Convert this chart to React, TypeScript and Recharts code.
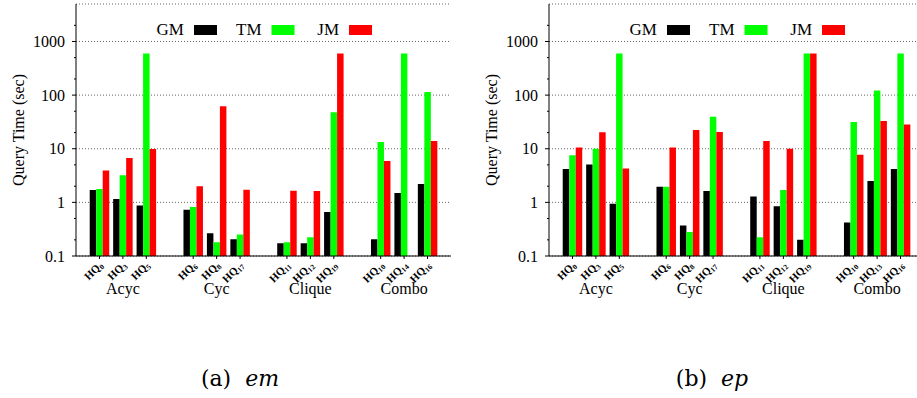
import { BarChart, Bar, XAxis, YAxis, CartesianGrid } from "recharts";

const GROUPS = ["Acyc", "Cyc", "Clique", "Combo"];
const QUERIES_EM = ["HQ0", "HQ3", "HQ5", "HQ6", "HQ8", "HQ17", "HQ11", "HQ12", "HQ19", "HQ10", "HQ14", "HQ16"];
const QUERIES_EP = ["HQ0", "HQ3", "HQ5", "HQ6", "HQ8", "HQ17", "HQ11", "HQ12", "HQ19", "HQ10", "HQ13", "HQ16"];

const EM_GM = [1.7, 1.15, 0.87, 0.73, 0.265, 0.205, 0.172, 0.172, 0.66, 0.205, 1.49, 2.2];
const EM_TM = [1.77, 3.2, 600, 0.82, 0.18, 0.253, 0.18, 0.223, 48, 13.3, 600, 114];
const EM_JM = [3.95, 6.7, 9.9, 1.99, 62, 1.72, 1.65, 1.63, 600, 5.9, null, 13.9];

const EP_GM = [4.2, 5.1, 0.94, 1.95, 0.37, 1.63, 1.28, 0.85, 0.2, 0.42, 2.5, 4.2];
const EP_TM = [7.6, 10, 600, 1.95, 0.28, 39.5, 0.223, 1.7, 600, 31.4, 122, 600];
const EP_JM = [10.6, 20.2, 4.3, 10.6, 22.3, 20.5, 13.9, 10, 600, 7.7, 32.8, 28.4];

const SERIES = ["GM", "TM", "JM"];
const COLORS = ["#000000", "#00ff00", "#ff0000"];

const MAJOR_TICKS = [0.1, 1, 10, 100, 1000];
const MINOR_TICKS = [0.2, 0.5, 2, 5, 20, 50, 200, 500, 2000];
const Y_DOMAIN = [0.1, 5000];

const FONT = "'Liberation Serif', 'Times New Roman', serif";

function buildRows(queries: string[], gm: (number | null)[], tm: (number | null)[], jm: (number | null)[]) {
  const rows: any[] = [];
  queries.forEach((q, i) => {
    if (i > 0 && i % 3 === 0) rows.push({ q: `gap${i}` });
    rows.push({
      q,
      group: i % 3 === 1 ? GROUPS[Math.floor(i / 3)] : null,
      GM: gm[i],
      TM: tm[i],
      JM: jm[i],
    });
  });
  return rows;
}

const emRows = buildRows(QUERIES_EM, EM_GM, EM_TM, EM_JM);
const epRows = buildRows(QUERIES_EP, EP_GM, EP_TM, EP_JM);

function QueryTick(props: any) {
  const { x, y, payload, rows } = props;
  const q: string = payload.value;
  if (q.startsWith("gap")) return null;
  const row = rows.find((r: any) => r.q === q);
  const px = Number(x);
  const py = Number(y);
  return (
    <g>
      <line x1={px} x2={px} y1={py} y2={py + 3} stroke="#000" />
      <g transform={`translate(${px + 4},${py + 10}) rotate(-45)`}>
        <text x={0} y={0} textAnchor="end" fontFamily={FONT} fontWeight="bold" fontSize={11} fill="#000">
          HQ
          <tspan fontSize={7.5} dy={2}>
            {q.slice(2)}
          </tspan>
        </text>
      </g>
      {row && row.group && (
        <text x={px} y={py + 38} textAnchor="middle" fontFamily={FONT} fontSize={16} fill="#000">
          {row.group}
        </text>
      )}
    </g>
  );
}

function ValueTick(props: any) {
  const { x, y, payload } = props;
  const v = payload.value;
  const major = MAJOR_TICKS.includes(v);
  return (
    <g>
      <line x1={x - (major ? 4 : 2)} x2={x} y1={y} y2={y} stroke="#000" />
      {major && (
        <text x={x - 11} y={y} dy="0.35em" textAnchor="end" fontFamily={FONT} fontSize={16} fill="#000">
          {v}
        </text>
      )}
    </g>
  );
}

function Panel({ rows }: { rows: any[] }) {
  return (
    <BarChart
      width={460}
      height={300}
      data={rows}
      margin={{ top: 4, right: 9, bottom: 0, left: 0 }}
      barGap={0}
      barSize={6.5}
    >
      <CartesianGrid yAxisId="grid" vertical={false} stroke="#666" strokeDasharray="1 2" />
      <XAxis
        dataKey="q"
        height={44}
        interval={0}
        tickSize={0}
        tickMargin={0}
        tickLine={false}
        padding={{ left: 11.72, right: 11.72 }}
        axisLine={{ stroke: "#000" }}
        tick={<QueryTick rows={rows} />}
      />
      <XAxis
        xAxisId="top"
        dataKey="q"
        orientation="top"
        height={0}
        tick={false}
        tickLine={false}
        axisLine={{ stroke: "#000" }}
      />
      <YAxis
        scale="log"
        domain={Y_DOMAIN}
        allowDataOverflow
        ticks={[...MAJOR_TICKS, ...MINOR_TICKS].sort((a, b) => a - b)}
        interval={0}
        width={76}
        tickSize={0}
        tickMargin={0}
        tickLine={false}
        axisLine={{ stroke: "#000" }}
        tick={<ValueTick />}
      />
      <YAxis
        yAxisId="grid"
        scale="log"
        domain={Y_DOMAIN}
        allowDataOverflow
        ticks={MAJOR_TICKS.slice(1)}
        interval={0}
        hide
      />
      <YAxis
        yAxisId="right"
        orientation="right"
        width={0}
        tick={false}
        tickLine={false}
        axisLine={{ stroke: "#000" }}
      />
      {SERIES.map((s, i) => (
        <Bar key={s} dataKey={s} fill={COLORS[i]} isAnimationActive={false} />
      ))}
      <text
        x={18}
        y={130}
        transform="rotate(-90 18 130)"
        textAnchor="middle"
        dy="0.35em"
        fontFamily={FONT}
        fontSize={16}
        fill="#000"
      >
        Query Time (sec)
      </text>
      <g>
        {SERIES.map((s, i) => (
          <g key={s}>
            <text x={184 + 77.5 * i} y={35} textAnchor="end" fontFamily={FONT} fontSize={17} fill="#000">
              {s}
            </text>
            <rect x={194 + 77.5 * i} y={25} width={23} height={10} fill={COLORS[i]} />
          </g>
        ))}
      </g>
    </BarChart>
  );
}

export default function App() {
  return (
    <div
      style={{
        position: "absolute",
        left: 0,
        top: 0,
        width: 917,
        height: 398,
        overflow: "hidden",
        background: "#fff",
      }}
    >
      <div style={{ position: "absolute", left: 0, top: 0 }}>
        <Panel rows={emRows} />
      </div>
      <div style={{ position: "absolute", left: 473, top: 0 }}>
        <Panel rows={epRows} />
      </div>
      <svg width={917} height={398} style={{ position: "absolute", left: 0, top: 0, pointerEvents: "none" }}>
        <text x={240} y={386} textAnchor="middle" fontFamily="'DejaVu Serif', serif" fontSize={22} fill="#000">
          (a)
          <tspan dx={14} fontStyle="italic">
            em
          </tspan>
        </text>
        <text x={712} y={386} textAnchor="middle" fontFamily="'DejaVu Serif', serif" fontSize={22} fill="#000">
          (b)
          <tspan dx={14} fontStyle="italic">
            ep
          </tspan>
        </text>
      </svg>
    </div>
  );
}
